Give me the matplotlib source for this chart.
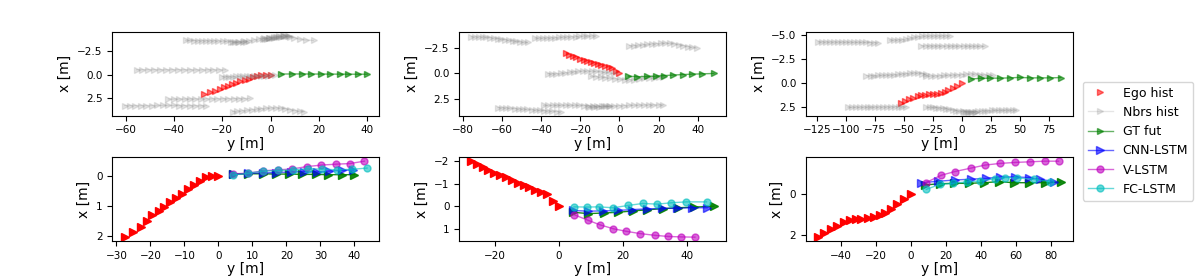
import matplotlib
matplotlib.use("Agg")
import matplotlib.pyplot as plt
from matplotlib.ticker import MultipleLocator

# ---------------- scene 1 ----------------
ego1_y = [-27.6, -25.1, -22.9, -21.0, -19.4, -17.6, -16.0, -14.2, -12.5, -10.6, -8.9, -7.2, -5.5, -3.8, -1.9, 0.0]
ego1_x = [2.04, 1.86, 1.71, 1.49, 1.30, 1.17, 1.02, 0.88, 0.73, 0.59, 0.44, 0.29, 0.18, 0.04, -0.01, 0.0]
gt1_y = [4.3, 8.7, 13.0, 16.9, 20.8, 24.7, 28.6, 32.3, 36.2, 40.0]
gt1_x = [-0.06, -0.07, -0.07, -0.06, -0.06, -0.05, -0.05, -0.04, -0.04, -0.04]
cnn1_y = [4.3, 8.7, 13.0, 16.9, 21.2, 25.1, 29.0, 32.4, 36.3, 39.7]
cnn1_x = [-0.06, -0.08, -0.10, -0.11, -0.13, -0.14, -0.13, -0.16, -0.18, -0.20]
vl1_y = [4.3, 8.8, 13.2, 17.4, 21.6, 26.0, 30.3, 34.6, 38.6, 42.9]
vl1_x = [-0.07, -0.09, -0.17, -0.20, -0.23, -0.31, -0.36, -0.39, -0.41, -0.49]
fc1_y = [4.3, 8.8, 13.2, 17.6, 22.0, 26.2, 30.4, 34.8, 39.3, 43.7]
fc1_x = [-0.03, -0.09, -0.16, -0.18, -0.20, -0.23, -0.23, -0.20, -0.22, -0.26]
nbrs1 = [
    ([-35.2, -33.5, -31.8, -30.1, -28.4, -26.7, -25.0, -23.3, -21.6, -19.9, -18.2, -16.5, -14.8, -13.2, -11.6, -10.0],
     [-3.65, -3.65, -3.64, -3.64, -3.63, -3.63, -3.62, -3.62, -3.6, -3.58, -3.56, -3.52, -3.48, -3.46, -3.47, -3.5]),
    ([-15.5, -13.4, -11.2, -9.0, -6.8, -4.7, -2.6, -0.6, 1.4, 3.4, 5.4, 7.5, 9.7, 12.0, 14.6, 17.8],
     [-3.45, -3.5, -3.55, -3.62, -3.72, -3.82, -3.9, -3.95, -4.0, -4.08, -4.15, -4.12, -3.95, -3.8, -3.7, -3.65]),
    ([-3.0, -2.3, -1.6, -0.8, -0.1, 0.6, 1.4, 2.1, 2.8, 3.5, 4.3, 5.0, 5.7, 6.5, 7.2, 8.0],
     [-3.82, -3.84, -3.86, -3.88, -3.9, -3.92, -3.95, -3.98, -4.0, -4.03, -4.06, -4.08, -4.1, -4.1, -4.08, -4.05]),
    ([-55.5, -53.1, -50.6, -48.2, -45.7, -43.3, -40.8, -38.4, -35.9, -33.5, -31.0, -28.6, -26.1, -23.7, -21.2, -18.8],
     [-0.52, -0.52, -0.53, -0.53, -0.52, -0.52, -0.53, -0.53, -0.52, -0.52, -0.51, -0.51, -0.52, -0.52, -0.51, -0.51]),
    ([-20.0, -18.6, -17.1, -15.7, -14.2, -12.8, -11.3, -9.9, -8.4, -7.0, -5.5, -4.1, -2.6, -1.2, 0.3, 1.7],
     [0.22, 0.22, 0.21, 0.21, 0.2, 0.2, 0.19, 0.18, 0.17, 0.16, 0.15, 0.13, 0.12, 0.1, 0.08, 0.06]),
    ([-42.3, -40.1, -37.8, -35.6, -33.3, -31.1, -28.8, -26.6, -24.3, -22.1, -19.8, -17.6, -15.3, -13.1, -10.8, -8.6],
     [2.62, 2.62, 2.61, 2.61, 2.6, 2.6, 2.6, 2.59, 2.59, 2.58, 2.58, 2.57, 2.57, 2.56, 2.56, 2.55]),
    ([-60.5, -58.2, -56.0, -53.7, -51.5, -49.2, -47.0, -44.7, -42.5, -40.2, -38.0, -35.7, -33.5, -31.2, -29.0, -26.7],
     [3.32, 3.32, 3.32, 3.31, 3.31, 3.31, 3.3, 3.3, 3.3, 3.3, 3.31, 3.31, 3.32, 3.32, 3.33, 3.33]),
    ([-15.7, -13.7, -11.7, -9.8, -7.8, -5.8, -3.8, -1.8, 0.2, 2.2, 4.2, 6.1, 8.1, 10.1, 12.1, 14.0],
     [3.95, 3.92, 3.88, 3.82, 3.76, 3.7, 3.64, 3.6, 3.57, 3.56, 3.58, 3.65, 3.75, 3.85, 3.93, 3.98]),
]

# ---------------- scene 2 ----------------
ego2_y = [-27.3, -25.6, -23.8, -22.0, -20.1, -18.3, -16.5, -14.7, -12.9, -11.0, -9.3, -7.5, -5.6, -3.7, -1.8, 0.0]
ego2_x = [-1.99, -1.85, -1.75, -1.60, -1.48, -1.38, -1.27, -1.15, -1.03, -0.95, -0.84, -0.71, -0.62, -0.52, -0.25, 0.0]
gt2_y = [4.5, 9.2, 14.0, 18.5, 23.0, 27.5, 32.3, 37.2, 42.2, 48.3]
gt2_x = [0.27, 0.33, 0.30, 0.27, 0.21, 0.16, 0.11, 0.07, 0.04, 0.0]
cnn2_y = [4.4, 9.0, 13.7, 18.3, 22.9, 27.6, 32.2, 36.9, 41.5, 46.2]
cnn2_x = [0.19, 0.22, 0.21, 0.19, 0.15, 0.12, 0.10, 0.09, 0.07, 0.07]
vl2_y = [4.6, 9.0, 12.9, 17.0, 20.9, 25.2, 29.9, 34.1, 38.2, 42.4]
vl2_x = [0.37, 0.62, 0.83, 1.00, 1.11, 1.21, 1.29, 1.34, 1.36, 1.37]
fc2_y = [4.7, 8.8, 12.4, 16.9, 21.5, 26.1, 30.7, 35.0, 39.7, 46.0]
fc2_x = [0.03, 0.04, 0.03, 0.07, -0.03, -0.12, -0.09, -0.15, -0.19, -0.19]
nbrs2 = [
    ([-75.8, -73.9, -72.0, -70.0, -68.1, -66.2, -64.3, -62.4, -60.4, -58.5, -56.6, -54.7, -52.8, -50.8, -48.9, -47.0],
     [-3.63, -3.63, -3.62, -3.6, -3.58, -3.55, -3.5, -3.45, -3.4, -3.34, -3.28, -3.22, -3.17, -3.12, -3.09, -3.07]),
    ([-43.2, -41.1, -39.1, -37.0, -35.0, -32.9, -30.8, -28.8, -26.7, -24.6, -22.5, -20.5, -18.4, -16.4, -14.3, -12.2],
     [-3.5, -3.5, -3.51, -3.52, -3.53, -3.55, -3.57, -3.6, -3.62, -3.64, -3.66, -3.68, -3.7, -3.71, -3.72, -3.73]),
    ([5.1, 7.4, 9.7, 12.0, 14.3, 16.6, 18.9, 21.2, 23.4, 25.7, 28.0, 30.3, 32.6, 34.9, 37.2, 39.5],
     [-2.75, -2.77, -2.8, -2.84, -2.88, -2.92, -2.96, -2.98, -3.0, -2.98, -2.92, -2.84, -2.76, -2.66, -2.58, -2.52]),
    ([-36.8, -34.5, -32.3, -30.0, -27.8, -25.5, -23.2, -21.0, -18.7, -16.5, -14.2, -11.9, -9.7, -7.4, -5.2, -2.9],
     [0.03, 0.03, 0.02, 0.0, -0.05, -0.12, -0.18, -0.22, -0.23, -0.23, -0.22, -0.2, -0.16, -0.1, -0.05, 0.0]),
    ([-14.7, -12.2, -9.7, -7.3, -4.8, -2.3, 0.2, 2.7, 5.1, 7.6, 10.1, 12.6, 15.1, 17.5, 20.0, 22.5],
     [0.29, 0.32, 0.36, 0.41, 0.47, 0.53, 0.58, 0.61, 0.62, 0.6, 0.56, 0.5, 0.45, 0.41, 0.38, 0.36]),
    ([-62.2, -60.1, -57.9, -55.8, -53.6, -51.5, -49.3, -47.2, -45.0, -42.9, -40.7, -38.6, -36.4, -34.3, -32.1, -30.0],
     [3.38, 3.4, 3.42, 3.45, 3.48, 3.51, 3.54, 3.57, 3.6, 3.63, 3.66, 3.69, 3.72, 3.75, 3.78, 3.8]),
    ([-38.8, -36.5, -34.2, -32.0, -29.7, -27.4, -25.1, -22.8, -20.6, -18.3, -16.0, -13.7, -11.4, -9.2, -6.9, -4.6],
     [3.17, 3.17, 3.16, 3.16, 3.15, 3.15, 3.15, 3.16, 3.17, 3.18, 3.2, 3.22, 3.24, 3.25, 3.26, 3.27]),
    ([-15.6, -13.1, -10.5, -8.0, -5.4, -2.9, -0.4, 2.2, 4.7, 7.3, 9.8, 12.3, 14.9, 17.4, 20.0, 22.5],
     [3.35, 3.32, 3.3, 3.27, 3.25, 3.22, 3.2, 3.18, 3.16, 3.15, 3.14, 3.13, 3.12, 3.12, 3.12, 3.12]),
]

# ---------------- scene 3 ----------------
ego3_y = [-53.0, -49.6, -45.8, -42.1, -38.3, -35.0, -31.6, -28.3, -24.6, -21.2, -17.8, -14.7, -11.6, -8.0, -4.0, 0.0]
ego3_x = [2.08, 1.89, 1.69, 1.53, 1.37, 1.27, 1.20, 1.19, 1.15, 1.11, 1.02, 0.91, 0.72, 0.50, 0.26, 0.0]
gt3_y = [7.8, 16.4, 24.7, 33.3, 41.7, 50.1, 58.9, 67.3, 76.5, 85.5]
gt3_x = [-0.44, -0.50, -0.52, -0.52, -0.55, -0.60, -0.55, -0.55, -0.55, -0.58]
cnn3_y = [5.9, 15.4, 24.9, 34.0, 43.1, 51.1, 59.6, 67.2, 73.9, 81.4]
cnn3_x = [-0.55, -0.62, -0.68, -0.72, -0.76, -0.83, -0.83, -0.80, -0.72, -0.60]
vl3_y = [8.4, 17.3, 25.1, 34.0, 42.2, 50.7, 59.6, 68.2, 76.3, 84.3]
vl3_x = [-0.55, -0.91, -1.09, -1.25, -1.40, -1.48, -1.53, -1.56, -1.59, -1.59]
fc3_y = [8.8, 16.5, 24.1, 32.1, 39.7, 47.9, 53.9, 60.6, 70.1, 79.2]
fc3_x = [-0.23, -0.47, -0.52, -0.59, -0.63, -0.75, -0.80, -0.78, -0.72, -0.60]
nbrs3 = [
    ([-124.4, -121.0, -117.5, -114.1, -110.6, -107.2, -103.7, -100.3, -96.8, -93.4, -89.9, -86.5, -83.0, -79.6, -76.1, -72.6],
     [-4.31, -4.31, -4.3, -4.3, -4.3, -4.29, -4.29, -4.28, -4.28, -4.27, -4.27, -4.26, -4.26, -4.25, -4.25, -4.24]),
    ([-62.5, -59.0, -55.6, -52.1, -48.7, -45.2, -41.7, -38.3, -34.8, -31.4, -27.9, -24.4, -21.0, -17.5, -14.1, -10.6],
     [-4.5, -4.5, -4.52, -4.55, -4.6, -4.68, -4.78, -4.85, -4.9, -4.92, -4.93, -4.94, -4.94, -4.95, -4.95, -4.95]),
    ([-35.1, -31.4, -27.8, -24.1, -20.5, -16.8, -13.2, -9.5, -5.9, -2.2, 1.4, 5.1, 8.7, 12.4, 16.0, 19.7],
     [-3.9, -3.9, -3.89, -3.89, -3.89, -3.88, -3.88, -3.88, -3.88, -3.87, -3.87, -3.87, -3.86, -3.86, -3.85, -3.85]),
    ([-82.6, -79.1, -75.7, -72.2, -68.8, -65.3, -61.9, -58.4, -55.0, -51.5, -48.1, -44.6, -41.2, -37.7, -34.3, -30.8],
     [-0.78, -0.78, -0.79, -0.8, -0.81, -0.83, -0.85, -0.88, -0.92, -0.96, -1.0, -1.04, -1.06, -1.05, -1.0, -0.95]),
    ([-30.8, -27.0, -23.1, -19.3, -15.4, -11.6, -7.7, -3.9, 0.0, 3.8, 7.7, 11.5, 15.4, 19.2, 23.1, 26.9],
     [-0.72, -0.74, -0.76, -0.78, -0.8, -0.82, -0.84, -0.86, -0.9, -0.94, -0.95, -0.94, -0.9, -0.86, -0.82, -0.8]),
    ([-98.5, -95.1, -91.8, -88.4, -85.1, -81.7, -78.3, -75.0, -71.6, -68.3, -64.9, -61.5, -58.2, -54.8, -51.5, -48.1],
     [2.53, 2.53, 2.52, 2.52, 2.52, 2.51, 2.51, 2.5, 2.5, 2.5, 2.49, 2.49, 2.48, 2.48, 2.47, 2.47]),
    ([-30.8, -27.9, -25.1, -22.2, -19.4, -16.5, -13.7, -10.8, -8.0, -5.1, -2.3, 0.6, 3.4, 6.3, 9.1, 12.0],
     [2.54, 2.54, 2.55, 2.56, 2.58, 2.62, 2.68, 2.75, 2.82, 2.88, 2.93, 2.96, 2.98, 3.0, 3.0, 3.0]),
    ([2.0, 5.0, 8.0, 11.0, 14.0, 17.0, 20.0, 23.0, 26.0, 29.0, 32.0, 35.0, 38.0, 41.0, 44.0, 47.0],
     [3.0, 3.0, 2.99, 2.97, 2.95, 2.92, 2.9, 2.88, 2.86, 2.85, 2.84, 2.84, 2.83, 2.83, 2.83, 2.83]),
]

scenes = [
    (ego1_y, ego1_x, gt1_y, gt1_x, nbrs1, cnn1_y, cnn1_x, vl1_y, vl1_x, fc1_y, fc1_x),
    (ego2_y, ego2_x, gt2_y, gt2_x, nbrs2, cnn2_y, cnn2_x, vl2_y, vl2_x, fc2_y, fc2_x),
    (ego3_y, ego3_x, gt3_y, gt3_x, nbrs3, cnn3_y, cnn3_x, vl3_y, vl3_x, fc3_y, fc3_x),
]

fig, axes = plt.subplots(2, 3, figsize=(11.96, 2.76), dpi=100)
fig.subplots_adjust(left=0.094, right=0.897, bottom=0.127, top=0.884, wspace=0.3, hspace=0.5)

for i, (ey, ex, gy, gx, nbrs, cy, cx, vy, vx, fy, fx) in enumerate(scenes):
    # top: scene with neighbours
    ax = axes[0, i]
    ax.plot(ey, ex, '>', color='r', alpha=0.55, ms=5, label='Ego hist')
    for k, (ny, nx_) in enumerate(nbrs):
        ax.plot(ny, nx_, '>-', color='grey', alpha=0.2, ms=4, lw=1,
                label='Nbrs hist' if k == 0 else None)
    ax.plot(gy, gx, '>-', color='g', alpha=0.6, ms=5, lw=1, label='GT fut')

    # bottom: predictions
    bx = axes[1, i]
    bx.plot(ey, ex, '>', color='r', ms=6)
    bx.plot(gy, gx, '>-', color='g', alpha=0.9, ms=6, lw=1)
    bx.plot(cy, cx, '>-', color='b', alpha=0.6, ms=6, lw=1, label='CNN-LSTM')
    bx.plot(vy, vx, 'o-', color='m', alpha=0.6, ms=5, lw=1, label='V-LSTM')
    bx.plot(fy, fx, 'o-', color='c', alpha=0.6, ms=5, lw=1, label='FC-LSTM')

    for a in (ax, bx):
        a.invert_yaxis()
        a.tick_params(labelsize=7.5)
        a.set_xlabel('y [m]', fontsize=10, labelpad=1)
        a.set_ylabel('x [m]', fontsize=10)

axes[0, 2].xaxis.set_major_locator(MultipleLocator(25))

h1, l1 = axes[0, 2].get_legend_handles_labels()
h2, l2 = axes[1, 2].get_legend_handles_labels()
fig.legend(h1 + h2, l1 + l2, loc='upper left', bbox_to_anchor=(0.9, 0.727), fontsize=9)

fig.savefig('out.png', dpi=100)
